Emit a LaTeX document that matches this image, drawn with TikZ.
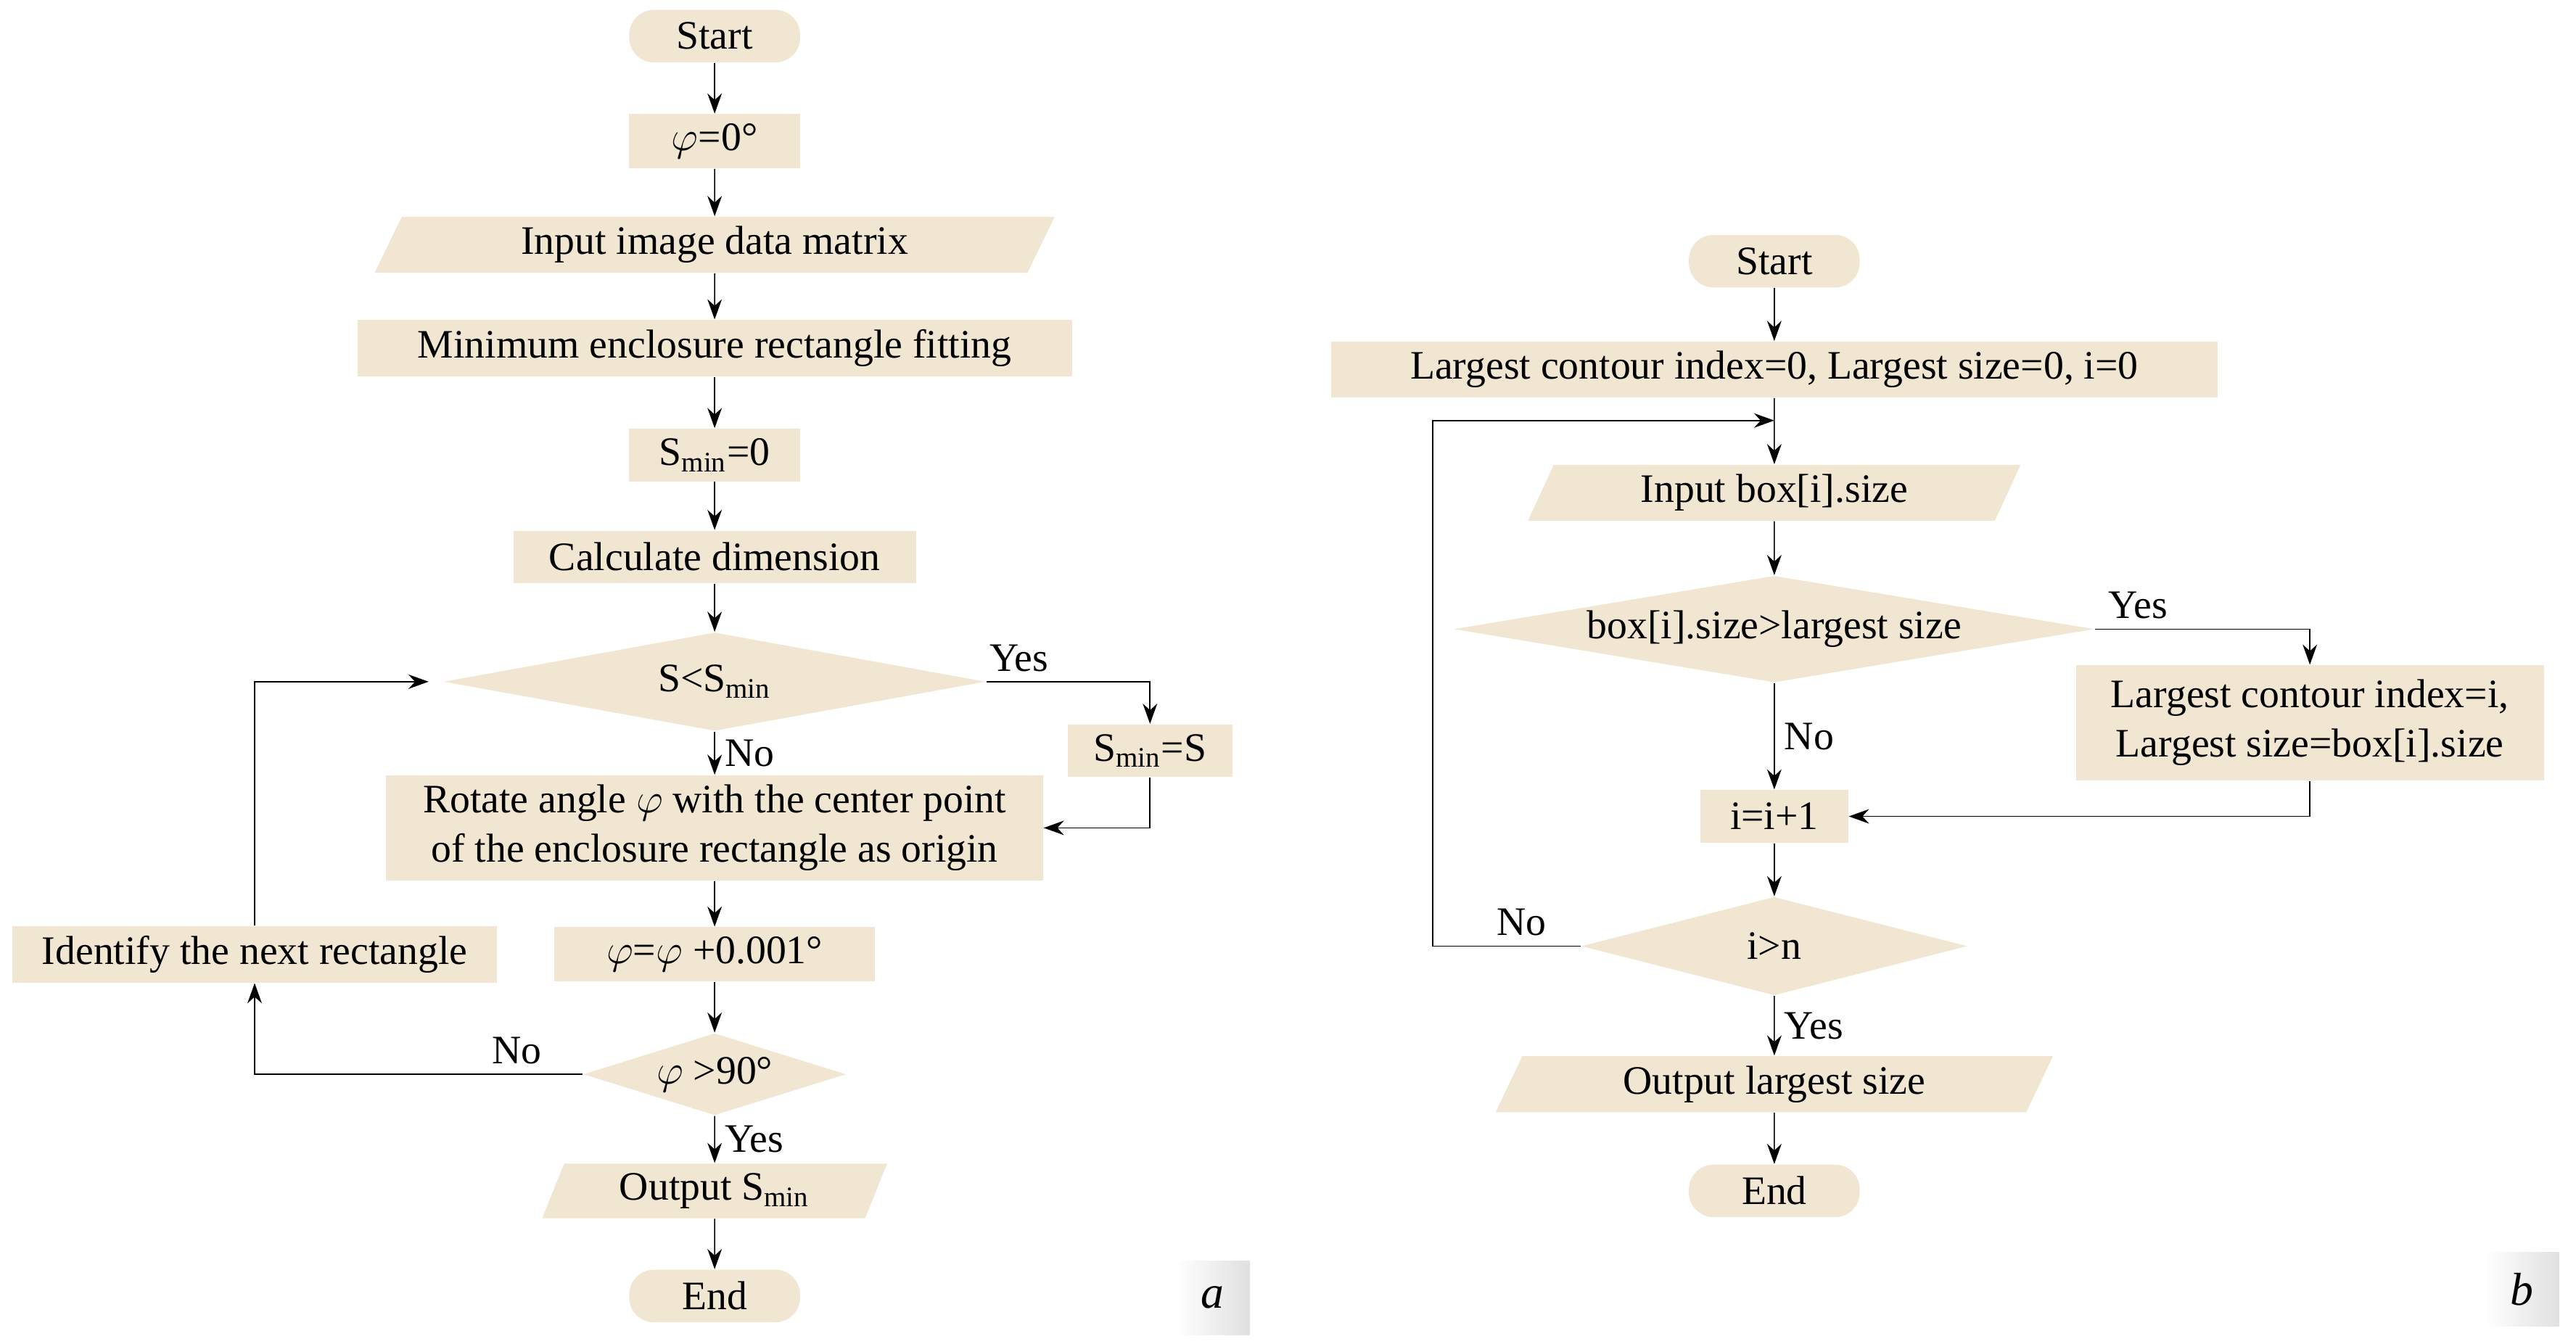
\documentclass[tikz,border=0pt]{standalone}
\usepackage{fontspec}
\setmainfont{Liberation Serif}
\usepackage{tikz}
\usetikzlibrary{positioning,arrows.meta,shapes.geometric}
\definecolor{beige}{RGB}{240,230,210}
\begin{document}
\begin{tikzpicture}[x=0.02cm, y=-0.02cm,
  every node/.style={font=\fontsize{14}{17}\selectfont},
  box/.style={fill=beige, minimum height=0.64cm, inner xsep=0.3cm},
  term/.style={fill=beige, rounded corners=0.3cm, minimum height=0.64cm, minimum width=2.08cm},
  io/.style={fill=beige, trapezium, trapezium left angle=70, trapezium right angle=110, minimum height=0.64cm, inner xsep=0.5cm, trapezium stretches=true},
  cond/.style={fill=beige, diamond, aspect=5.5, inner sep=0pt},
  flow/.style={-{Stealth[length=7pt,width=5pt]}, thin},
  lbl/.style={font=\fontsize{14}{17}\selectfont}]
\useasboundingbox (0,0) rectangle (1568,818);

% left chart
\node[term] (startA) at (435,22) {Start};
\node[box, minimum width=2.08cm] (phi0) at (435,86) {$\varphi$=0°};
\node[io, minimum width=8.3cm] (inputA) at (435,149) {Input image data matrix};
\node[box, minimum width=8.7cm] (fit) at (435,212) {Minimum enclosure rectangle fitting};
\node[box, minimum width=2.08cm] (smin0) at (435,277) {S\textsubscript{min}=0};
\node[box, minimum width=4.9cm] (calc) at (435,339) {Calculate dimension};
\node[cond, minimum width=6.6cm, minimum height=1.2cm] (less) at (435,415) {S<S\textsubscript{min}};
\node[box, minimum width=2cm] (sminS) at (700,457) {S\textsubscript{min}=S};
\node[box, minimum width=8cm, align=center] (rot) at (435,504) {Rotate angle $\varphi$ with the center point\\of the enclosure rectangle as origin};
\node[box, minimum width=3.9cm] (incr) at (435,581) {$\varphi$=$\varphi$ +0.001°};
\node[box, minimum width=5.9cm] (next) at (155,581) {Identify the next rectangle};
\node[cond, minimum width=3.2cm, minimum height=1cm, aspect=3.2] (gt90) at (435,654) {$\varphi$ >90°};
\node[io, minimum width=4.2cm] (outA) at (435,725) {Output S\textsubscript{min}};
\node[term] (endA) at (435,789) {End};
\node[left color=white, right color=black!12, minimum width=0.9cm, minimum height=0.9cm, font=\fontsize{16}{18}\selectfont\itshape] (tagA) at (738,790) {a};

\draw[flow] (startA) -- (phi0);
\draw[flow] (phi0) -- (inputA);
\draw[flow] (inputA) -- (fit);
\draw[flow] (fit) -- (smin0);
\draw[flow] (smin0) -- (calc);
\draw[flow] (calc) -- (less);
\draw[flow] (less) -- node[lbl, right] {No} (rot);
\draw[flow] (less.east) -- node[lbl, above, pos=0.2] {Yes} (700,415) -- (sminS);
\draw[flow] (sminS) -- (700,504) -- (rot.east);
\draw[flow] (rot) -- (incr);
\draw[flow] (incr) -- (gt90);
\draw[flow] (gt90) -- node[lbl, right] {Yes} (outA);
\draw[flow] (outA) -- (endA);
\draw[flow] (gt90.west) -- node[lbl, above, pos=0.2] {No} (155,654) -- (next);
\draw[flow] (next) -- (155,415) -- ([xshift=-5]less.west);

% right chart
\node[term] (startB) at (1080,159) {Start};
\node[box, minimum width=10.8cm] (init) at (1080,225) {Largest contour index=0, Largest size=0, i=0};
\coordinate (join) at (1080,256);
\node[io, minimum width=6cm] (inputB) at (1080,300) {Input box[i].size};
\node[cond, minimum width=7.8cm, minimum height=1.3cm] (bigger) at (1080,383) {box[i].size>largest size};
\node[box, minimum width=5.7cm, minimum height=1.4cm, align=center] (keep) at (1406,440) {Largest contour index=i,\\Largest size=box[i].size};
\node[box, minimum width=1.8cm] (inc) at (1080,497) {i=i+1};
\node[cond, minimum width=4.7cm, minimum height=1.2cm, aspect=4] (done) at (1080,576) {i>n};
\node[io, minimum width=6.8cm] (outB) at (1080,660) {Output largest size};
\node[term] (endB) at (1080,725) {End};
\node[left color=white, right color=black!12, minimum width=0.9cm, minimum height=0.9cm, font=\fontsize{16}{18}\selectfont\itshape] (tagB) at (1535,785) {b};

\draw[flow] (startB) -- (init);
\draw[flow] (init) -- (inputB);
\draw[flow] (inputB) -- (bigger);
\draw[flow] (bigger) -- node[lbl, right] {No} (inc);
\draw[flow] (bigger.east) -- node[lbl, above, pos=0.2] {Yes} (1406,383) -- (keep);
\draw[flow] (keep) -- (1406,497) -- (inc.east);
\draw[flow] (inc) -- (done);
\draw[flow] (done) -- node[lbl, right] {Yes} (outB);
\draw[flow] (outB) -- (endB);
\draw[flow] (done.west) -- node[lbl, above, pos=0.4] {No} (872,576) -- (872,256) -- (join);
\end{tikzpicture}
\end{document}
